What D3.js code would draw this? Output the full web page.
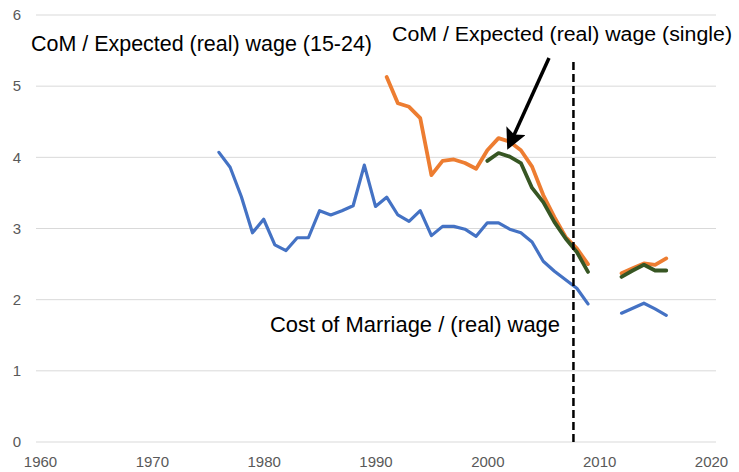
<!DOCTYPE html>
<html>
<head>
<meta charset="utf-8">
<script src="https://cdn.jsdelivr.net/npm/d3@7"></script>
<style>
	body { margin: 0; background: #fff; }
	text { font-family: "Liberation Sans", Arial, sans-serif; }
</style>
</head>
<body>
<div class="container"></div>
<script>
// years of the series (gaps are null)
var blueYears = d3.range(1976, 2017);
var blueVals = [4.07, 3.86, 3.45, 2.94, 3.13, 2.77, 2.69, 2.87, 2.87, 3.25,
	3.19, 3.25, 3.32, 3.89, 3.31, 3.44, 3.19, 3.10, 3.25, 2.90,
	3.03, 3.03, 2.99, 2.89, 3.08, 3.08, 2.99, 2.94, 2.81, 2.54,
	2.40, 2.28, 2.16, 1.94, null, null, 1.81, 1.88, 1.95, 1.87, 1.78];

var orangeYears = d3.range(1991, 2017);
var orangeVals = [5.13, 4.76, 4.71, 4.55, 3.75, 3.95, 3.97, 3.92, 3.84, 4.10,
	4.27, 4.22, 4.10, 3.87, 3.47, 3.16, 2.88, 2.72, 2.50, null,
	null, 2.37, 2.44, 2.51, 2.49, 2.58];

var greenYears = d3.range(2000, 2017);
var greenVals = [3.95, 4.06, 4.01, 3.92, 3.57, 3.37, 3.09, 2.86, 2.67, 2.39,
	null, null, 2.32, 2.41, 2.49, 2.41, 2.41];

var xTicks = [1960, 1970, 1980, 1990, 2000, 2010, 2020];
var yTicks = [0, 1, 2, 3, 4, 5, 6];
var crisisYear = 2007.7; // dashed vertical marker

var W = 739, H = 472;

function makeStage(w, h) {
	var stage = d3.select(".container")
	.append("svg")
	.attr("width", w)
	.attr("height", h);
	return stage;
}

var svg = makeStage(W, H);

var x = d3.scaleLinear().domain([1960, 2020]).range([40, 711]);
var y = d3.scaleLinear().domain([0, 6]).range([442, 15]);

// gridlines
svg.append("g")
	.selectAll("line")
	.data(yTicks)
	.join("line")
	.attr("x1", 36)
	.attr("x2", 716)
	.attr("y1", function(d) { return y(d); })
	.attr("y2", function(d) { return y(d); })
	.style("stroke", "#d9d9d9")
	.style("stroke-width", "1px");

// y tick labels
var yAxis = svg.append("g")
	.attr("transform", "translate(21,0)")
	.call(d3.axisLeft(y).tickValues(yTicks).tickFormat(d3.format("d")).tickSize(0).tickPadding(0));
yAxis.select(".domain").remove();
yAxis.selectAll("text")
	.style("font-size", "15px")
	.style("fill", "#595959")
	.style("font-family", "Liberation Sans, Arial, sans-serif");

// x tick labels
var xAxis = svg.append("g")
	.attr("transform", "translate(0,456)")
	.call(d3.axisBottom(x).tickValues(xTicks).tickFormat(d3.format("d")).tickSize(0).tickPadding(0));
xAxis.select(".domain").remove();
xAxis.selectAll("text")
	.style("font-size", "15px")
	.style("fill", "#595959")
	.style("font-family", "Liberation Sans, Arial, sans-serif");

function drawSeries(years, vals, color, width) {
	var pts = years.map(function(yr, i) { return [yr, vals[i]]; });
	var line = d3.line()
		.defined(function(d) { return d[1] !== null; })
		.x(function(d) { return x(d[0]); })
		.y(function(d) { return y(d[1]); });
	svg.append("path")
		.datum(pts)
		.attr("d", line)
		.style("fill", "none")
		.style("stroke", color)
		.style("stroke-width", width)
		.style("stroke-linejoin", "round")
		.style("stroke-linecap", "round");
}

drawSeries(blueYears, blueVals, "#4472c4", "3.2px");
drawSeries(orangeYears, orangeVals, "#ed7d31", "3.8px");
drawSeries(greenYears, greenVals, "#375623", "3.8px");

// dashed vertical line
svg.append("line")
	.attr("x1", x(crisisYear))
	.attr("x2", x(crisisYear))
	.attr("y1", 62)
	.attr("y2", y(0))
	.style("stroke", "#000")
	.style("stroke-width", "2.5px")
	.style("stroke-dasharray", "8,4");

// arrow pointing at the single-wage line
var defs = svg.append("defs");
defs.append("marker")
	.attr("id", "head")
	.attr("viewBox", "0 0 10 10")
	.attr("refX", 8)
	.attr("refY", 5)
	.attr("markerWidth", 6)
	.attr("markerHeight", 6)
	.attr("orient", "auto")
	.append("path")
	.attr("d", "M0,0 L10,5 L0,10 L2,5 Z")
	.style("fill", "#000");

svg.append("line")
	.attr("x1", 549)
	.attr("y1", 58)
	.attr("x2", 509)
	.attr("y2", 146)
	.attr("marker-end", "url(#head)")
	.style("stroke", "#000")
	.style("stroke-width", "3.5px");

function addLabel(txt, lx, ly, len, size) {
	svg.append("text")
		.attr("x", lx)
		.attr("y", ly)
		.attr("textLength", len)
		.attr("lengthAdjust", "spacingAndGlyphs")
		.style("font-size", size)
		.style("fill", "#000")
		.text(txt);
}

addLabel("CoM / Expected (real) wage (15-24)", 31, 51, 341, "22px");
addLabel("CoM / Expected (real) wage (single)", 392, 41, 340, "20px");
addLabel("Cost of Marriage / (real) wage", 270, 332, 290, "22px");
</script>
</body>
</html>
